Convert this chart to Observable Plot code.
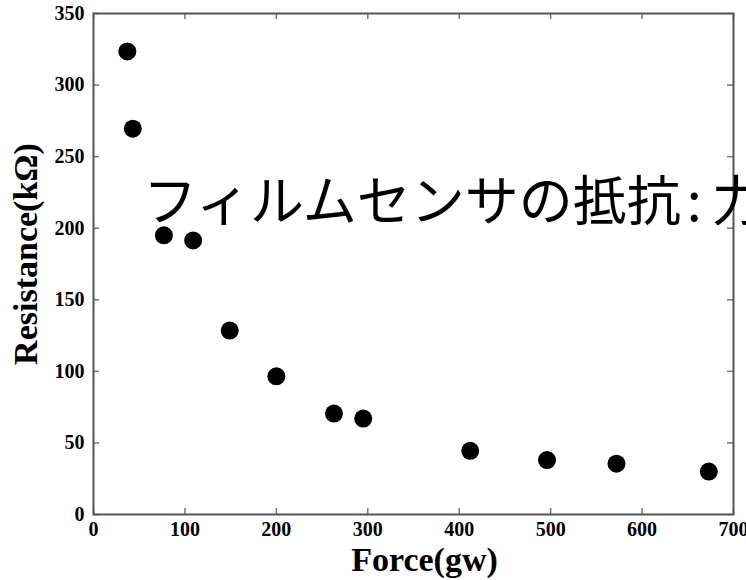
<!DOCTYPE html>
<html>
<head>
<meta charset="utf-8">
<script src="https://cdn.jsdelivr.net/npm/d3@7"></script>
<script src="https://cdn.jsdelivr.net/npm/@observablehq/plot@0.6"></script>
<style>
  html, body { margin: 0; padding: 0; background: #fff; overflow: hidden; width: 746px; height: 580px; }
  #wrap { position: relative; width: 746px; height: 580px; overflow: hidden; }
  #title { position: absolute; left: 143px; top: 171px; font-family: "Noto Sans CJK JP", sans-serif; font-size: 54px; line-height: 1; white-space: nowrap; color: #000; }
  #title .colon { margin: 0 10px 0 6px; }
</style>
</head>
<body>
<div id="wrap">
  <div id="chart"></div>
  <div id="title">フィルムセンサの抵抗<span class="colon">:</span>力</div>
</div>
<script>
const force = [37, 43, 77, 109, 149, 200, 263, 295, 412, 496, 572, 673];
const resistance = [323.5, 269.5, 195, 191.5, 128.5, 96.5, 70.5, 67, 44.5, 38, 35.5, 30];
const xTicks = [0, 100, 200, 300, 400, 500, 600, 700];
const yTicks = [0, 50, 100, 150, 200, 250, 300, 350];
const xLabel = "Force(gw)";
const yLabel = "Resistance(kΩ)";

const data = force.map((f, i) => ({force: f, resistance: resistance[i]}));
const font = "'Liberation Serif', 'Times New Roman', serif";

const chart = Plot.plot({
  width: 746,
  height: 580,
  marginTop: 13,
  marginBottom: 66,
  marginLeft: 93,
  marginRight: 13,
  style: {fontFamily: font, fontWeight: "bold", fontSize: "20px", background: "white", color: "black"},
  x: {domain: [0, 700]},
  y: {domain: [0, 350]},
  marks: [
    Plot.tickX(xTicks, {x: d => d, insetTop: 495, stroke: "#777", strokeWidth: 1.5}),
    Plot.tickX(xTicks, {x: d => d, insetBottom: 495, stroke: "#777", strokeWidth: 1.5}),
    Plot.tickY(yTicks, {y: d => d, insetRight: 634, stroke: "#777", strokeWidth: 1.5}),
    Plot.tickY(yTicks, {y: d => d, insetLeft: 634, stroke: "#777", strokeWidth: 1.5}),
    Plot.frame({stroke: "#555", strokeWidth: 2}),
    Plot.axisX(xTicks, {tickSize: 0, tickPadding: 7, label: null, fontSize: 20, fontWeight: "bold", fill: "black"}),
    Plot.axisY(yTicks, {tickSize: 0, tickPadding: 9, label: null, fontSize: 20, fontWeight: "bold", fill: "black"}),
    Plot.dot(data, {x: "force", y: "resistance", r: 9, fill: "black", stroke: null}),
    Plot.text([xLabel], {text: d => d, frameAnchor: "bottom", dx: 11, dy: 56, lineAnchor: "bottom", fontSize: 34, fontWeight: "bold", fontFamily: font, fill: "black"}),
    Plot.text([yLabel], {text: d => d, frameAnchor: "left", textAnchor: "middle", dx: -57, dy: -10, rotate: -90, lineAnchor: "bottom", fontSize: 34, fontWeight: "bold", fontFamily: font, fill: "black"})
  ]
});
document.getElementById("chart").appendChild(chart);
</script>
</body>
</html>
